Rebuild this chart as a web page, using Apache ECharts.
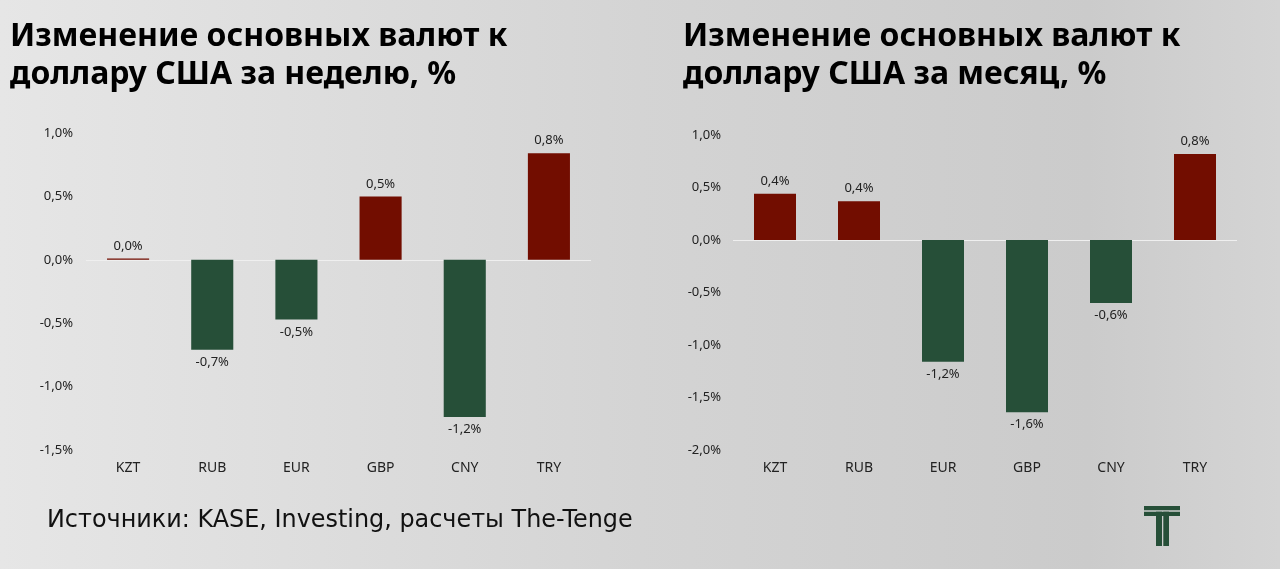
<!DOCTYPE html>
<html><head><meta charset="utf-8">
<script src="https://cdn.jsdelivr.net/npm/echarts@6/dist/echarts.min.js"></script>
<style>html,body{margin:0;padding:0;}#c{width:1280px;height:569px;}</style>
</head><body><div id="c"></div>
<script>
const categories = ['KZT','RUB','EUR','GBP','CNY','TRY'];
const weekValues = [0.01, -0.71, -0.47, 0.50, -1.24, 0.84];
const monthValues = [0.44, 0.37, -1.16, -1.64, -0.60, 0.82];
const titleWeek = 'Изменение основных валют к\nдоллару США за неделю, %';
const titleMonth = 'Изменение основных валют к\nдоллару США за месяц, %';
const sourceText = 'Источники: KASE, Investing, расчеты The-Tenge';

const RED = '#720d00', GREEN = '#264f38';
const FONT = 'Noto Sans';
const fmt = v => v.toFixed(1).replace('.', ',') + '%';

function barData(vals){
  return vals.map(v => ({value: v, itemStyle: {color: v >= 0 ? RED : GREEN},
    label: {position: v >= 0 ? 'top' : 'bottom'}}));
}
function series(idx, vals){
  return {
    type: 'bar', xAxisIndex: idx, yAxisIndex: idx, barWidth: '50%',
    data: barData(vals),
    label: {show: true, color: '#222', fontSize: 13, fontFamily: FONT, distance: 6,
      formatter: p => fmt(p.value)},
    markLine: {silent: true, symbol: 'none', label: {show: false},
      lineStyle: {color: '#efefef', width: 1, type: 'solid'},
      data: [{yAxis: 0}], z: 1},
    z: 3
  };
}
const axisLabel = {color: '#222', fontSize: 13, fontFamily: FONT};

const chart = echarts.init(document.getElementById('c'));
chart.setOption({
  backgroundColor: {type: 'linear', x: 0, y: 0, x2: 1, y2: 0,
    colorStops: [{offset: 0, color: '#e6e6e6'}, {offset: 0.5, color: '#d4d4d4'},
                 {offset: 0.85, color: '#cbcbcb'}, {offset: 1, color: '#d4d4d4'}]},
  animation: false,
  grid: [
    {left: 86, top: 133, width: 505, height: 317},
    {left: 733, top: 135, width: 504, height: 315}
  ],
  xAxis: [0, 1].map(i => ({type: 'category', gridIndex: i, data: categories,
    axisLine: {show: false}, axisTick: {show: false},
    axisLabel: Object.assign({margin: 11}, axisLabel, {fontSize: 14})})),
  yAxis: [
    {type: 'value', gridIndex: 0, min: -1.5, max: 1.0, interval: 0.5,
     splitLine: {show: false}, axisLine: {show: false}, axisTick: {show: false},
     axisLabel: Object.assign({margin: 13, formatter: fmt}, axisLabel)},
    {type: 'value', gridIndex: 1, min: -2.0, max: 1.0, interval: 0.5,
     splitLine: {show: false}, axisLine: {show: false}, axisTick: {show: false},
     axisLabel: Object.assign({margin: 12, formatter: fmt}, axisLabel)}
  ],
  series: [series(0, weekValues), series(1, monthValues)],
  graphic: [
    {type: 'text', left: 10, top: 18, style: {text: titleWeek, fill: '#000',
      font: 'bold 32px "Noto Sans"', lineHeight: 38}},
    {type: 'text', left: 683, top: 18, style: {text: titleMonth, fill: '#000',
      font: 'bold 32px "Noto Sans"', lineHeight: 38}},
    {type: 'text', x: 47, y: 521, style: {text: sourceText, fill: '#111',
      font: '23.9px "DejaVu Sans"', verticalAlign: 'middle'}},
    {type: 'group', x: 1144, y: 505, children: [
      {type: 'rect', shape: {x: 0, y: 1, width: 36, height: 4.3}, style: {fill: GREEN}},
      {type: 'rect', shape: {x: 0, y: 6.7, width: 36, height: 4.3}, style: {fill: GREEN}},
      {type: 'rect', shape: {x: 12, y: 6.7, width: 6, height: 34.3}, style: {fill: GREEN}},
      {type: 'rect', shape: {x: 19.3, y: 6.7, width: 5.7, height: 34.3}, style: {fill: GREEN}}
    ]}
  ]
});
</script></body></html>
